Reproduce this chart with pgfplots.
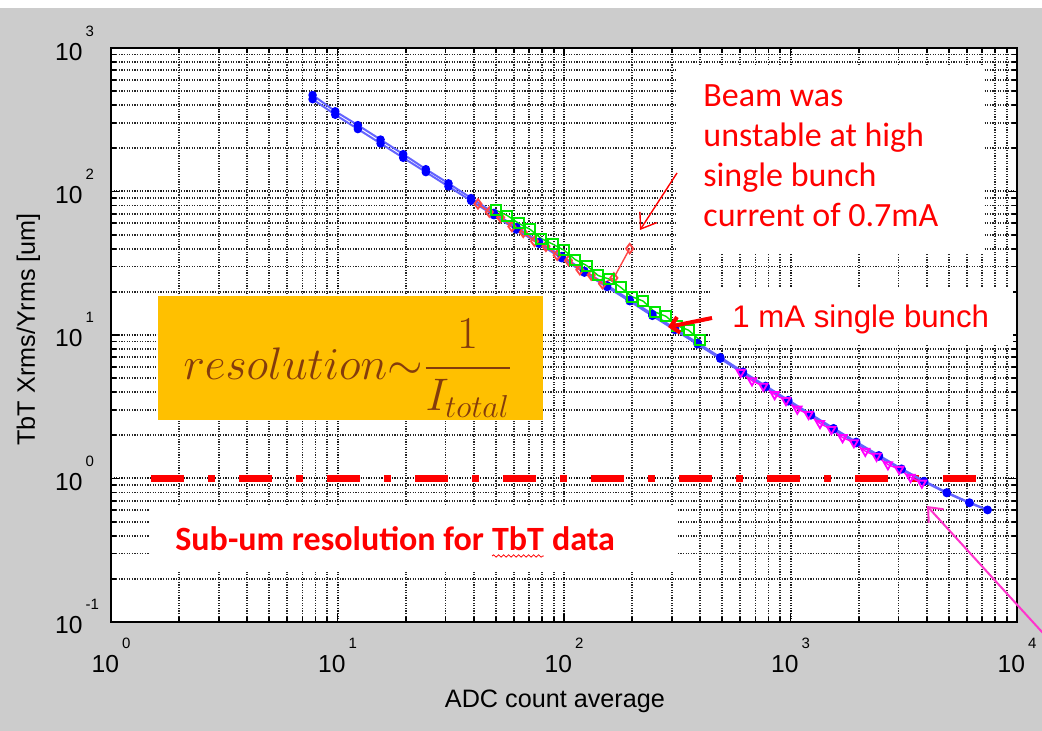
\documentclass[border=0pt]{standalone}
\usepackage{amsmath}
\usepackage{graphicx}
\usepackage{fontspec}
\setmainfont{Liberation Sans}
\newfontfamily\calibri{Carlito}
\usepackage{pgfplots}
\pgfplotsset{compat=1.18}
\usetikzlibrary{arrows.meta,decorations.pathmorphing}

\definecolor{bg}{RGB}{204,204,204}
\definecolor{bl}{RGB}{0,0,255}
\definecolor{bll}{RGB}{100,100,255}
\definecolor{gr}{RGB}{0,230,0}
\definecolor{rd}{RGB}{255,70,70}
\definecolor{mg}{RGB}{255,0,255}
\definecolor{orangebox}{RGB}{255,192,0}
\definecolor{brn}{RGB}{132,60,12}
\definecolor{pinkarrow}{RGB}{255,51,204}

% tick labels: 10 with a raised exponent
\newcommand\xl[1]{\mbox{10\hspace{1.5pt}\raisebox{12pt}{\fontsize{7.5}{7.5}\selectfont #1}}}
\newcommand\yl[1]{\mbox{10\rlap{\hspace{1.5pt}\raisebox{12pt}{\fontsize{7.5}{7.5}\selectfont #1}}}}

\begin{document}
\begin{tikzpicture}
% page background
\fill[bg] (-55.5pt,-54.5pt) rectangle (465.5pt,307pt);
\fill[white] (-55.5pt,307pt) rectangle (465.5pt,311pt);

\begin{axis}[
  at={(0pt,0pt)}, anchor=south west,
  scale only axis, width=453pt, height=287pt,
  xmode=log, ymode=log,
  xmin=1, xmax=10000, ymin=0.1, ymax=1000,
  xtick={1,10,100,1000,10000},
  xticklabels={\xl{0},\xl{1},\xl{2},\xl{3},\xl{4}},
  ytick={0.1,1,10,100,1000},
  yticklabels={\yl{-1},\yl{0},\yl{1},\yl{2},\yl{3}},
  ticklabel style={font=\fontsize{12.3}{12}\selectfont},
  xticklabel style={anchor=base, inner sep=0pt, yshift=-25.5pt},
  yticklabel style={anchor=base east, inner sep=0pt, xshift=-14pt, yshift=-6pt},
  grid=both,
  major grid style={black!90, line width=1pt, dash pattern=on 0.6pt off 0.7pt},
  minor grid style={black!85, line width=0.9pt, dash pattern=on 0.6pt off 0.7pt},
  axis line style={black, line width=1pt},
  tick style={black, line width=0.9pt},
  major tick length=4pt, minor tick length=2.5pt,
  axis background/.style={fill=white},
  xlabel={ADC count average},
  ylabel={TbT Xrms/Yrms [um]},
  label style={font=\fontsize{12.6}{14}\selectfont},
  xlabel style={at={(axis description cs:0.49,0)}, anchor=base, yshift=-42.5pt},
  ylabel style={at={(axis description cs:-0.0839,0.51)}, anchor=base},
]
% 1 um level
\addplot[red, line width=3.5pt, line cap=butt,
  dash pattern=on 16.5pt off 12pt on 3.5pt off 12pt] coordinates {(1.502,1) (6793,1)};

% Xrms
\addplot[bll, line width=1pt, mark=*, mark size=1.6pt, mark options={fill=bl, draw=bl}] coordinates {
(7.762,440) (9.772,342.8) (12.30,272.3) (15.49,216.3) (19.50,171.8) (24.55,136.5)
(30.90,108.4) (38.90,86.1) (48.98,68.4) (61.66,54.3) (77.62,43.2) (97.72,34.3)
(123.0,27.2) (154.9,21.6) (195.0,17.2) (245.5,13.6) (309.0,10.84) (389.0,8.61)
(489.8,6.84) (616.6,5.43) (776.2,4.33) (977.2,3.45) (1230,2.752) (1549,2.20)
(1950,1.764) (2455,1.422) (3090,1.156) (3890,0.950) (4898,0.792) (6166,0.675) (7413,0.603)
};
% Yrms
\addplot[bll, line width=1pt, mark=*, mark size=1.6pt, mark options={fill=bl, draw=bl}] coordinates {
(7.762,470) (9.772,362) (12.30,290) (15.49,230) (19.50,182) (24.55,143)
(30.90,114) (38.90,90) (48.98,71) (61.66,56.5) (77.62,44.5) (97.72,35.5)
(123.0,28.0) (154.9,22.2) (195.0,17.6) (245.5,14.0) (309.0,11.1) (389.0,8.8)
(489.8,7.0) (616.6,5.55) (776.2,4.42) (977.2,3.52) (1230,2.80) (1549,2.24)
(1950,1.80) (2455,1.45) (3090,1.17) (3890,0.96) (4898,0.80) (6166,0.68) (7413,0.605)
};
% red diamonds
\addplot[rd, line width=0.7pt, mark=diamond, mark size=2.4pt, mark options={draw=rd, line width=0.9pt}] coordinates {
(41.7,82) (46.8,72) (52.5,66) (58.9,57) (66.1,52) (74.1,45) (83.2,41.5) (93.3,36)
(104.7,33) (117.5,28.5) (131.8,26.2) (147.9,22.8) (166,25) (195,40)
};
% green squares
\addplot[gr, line width=0.7pt, mark=square, mark size=2.5pt, mark options={draw=gr, line width=1pt}] coordinates {
(50.1,74) (56.2,68) (63.1,60) (70.8,54.5) (79.4,47) (89.1,43) (100,39) (112.2,33.5)
(125.9,30.5) (141.3,26) (158.5,24.5) (177.8,21.5) (199.5,18.5) (223.9,17.2) (251.2,14.5)
(281.8,13.5) (316.2,11.6) (354.8,10.8) (398.1,9.2)
};
% magenta triangles
\addplot[mg, line width=0.7pt, mark=triangle, mark size=2.4pt, mark options={draw=mg, rotate=180, line width=0.9pt}] coordinates {
(602.6,5.5) (676.1,4.8) (758.6,4.4) (851.1,3.85) (955,3.5) (1072,3.05) (1202,2.8) (1349,2.42)
(1514,2.2) (1698,1.93) (1905,1.78) (2138,1.55) (2399,1.43) (2692,1.25) (3020,1.16) (3388,1.02) (3802,0.93)
};
\end{axis}

% formula box
\fill[orangebox] (23.5pt,101pt) rectangle (216pt,163pt);
\node[text=brn, inner sep=0pt] at (118.5pt,126.75pt)
  {\scalebox{1.1}{\fontsize{22}{26}\selectfont $\displaystyle resolution{\sim}\frac{1}{I_{total}}$}};

% note on the unstable beam
\fill[white] (283.5pt,184.5pt) rectangle (436pt,278.5pt);
\begin{scope}[every node/.style={anchor=base west, inner sep=0pt, text=red,
    font=\calibri\fontsize{17}{19}\selectfont}]
\node at (296pt,257.5pt) {Beam was};
\node at (296pt,237.5pt) {unstable at high};
\node at (296pt,217.5pt) {single bunch};
\node at (296pt,197.5pt) {current of 0.7mA};
\end{scope}
\draw[red, line width=0.7pt, -{Straight Barb[length=7pt,width=10pt]}] (283pt,224.5pt) -- (264.5pt,196pt);

% 1 mA note
\fill[white] (299.5pt,138.5pt) rectangle (451pt,167pt);
\node[anchor=base west, inner sep=0pt, text=red, font=\fontsize{15.6}{18}\selectfont]
  at (310.5pt,147pt) {1 mA single bunch};
\draw[red, line width=2pt, -{Straight Barb[length=4pt,width=8pt]}] (300.5pt,152pt) -- (278.5pt,147.5pt);

% sub-um note
\fill[white] (19.5pt,25pt) rectangle (283pt,58.5pt);
\node[anchor=base west, inner sep=0pt, text=red, font=\calibri\bfseries\fontsize{17}{20}\selectfont]
  at (32pt,35.5pt) {Sub-um resolution for \tikz[baseline=(t.base)]{\node[anchor=base, inner sep=0pt, outer sep=0pt] (t) {TbT};
    \draw[red, line width=0.4pt, decorate, decoration={snake, amplitude=0.6pt, segment length=2.5pt}]
      ([yshift=-2.5pt]t.base west) -- ([yshift=-2.5pt]t.base east);} data};

% pointer to the 1 um crossing
\begin{scope}
\clip (-55.5pt,-54.5pt) rectangle (465.5pt,311pt);
\draw[pinkarrow, line width=1pt, -{Straight Barb[length=6pt,width=10pt]}] (470.5pt,-10.5pt) -- (408pt,58pt);
\end{scope}
\end{tikzpicture}
\end{document}
